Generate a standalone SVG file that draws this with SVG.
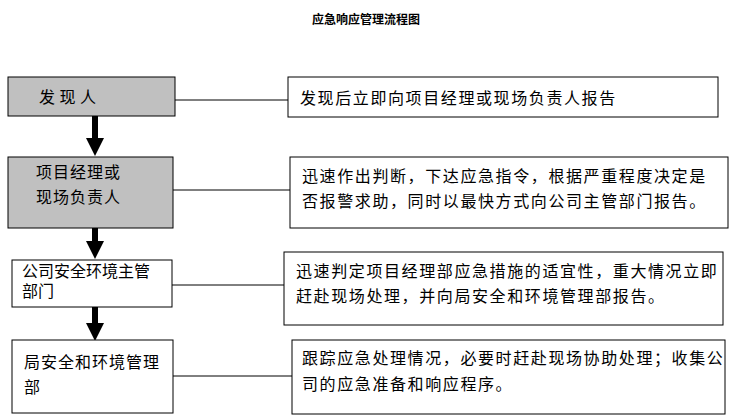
<svg xmlns="http://www.w3.org/2000/svg" width="733" height="419" viewBox="0 0 733 419">
<style>
text{font-family:"Liberation Sans","Noto Sans CJK SC",sans-serif;font-size:16px;fill:#000}
.t{font-weight:bold;font-size:12px}
.r{letter-spacing:1.6px}
.l{letter-spacing:1px}
.g{fill:#c0c0c0;stroke:#000;stroke-width:1}
.w{fill:#fff;stroke:#000;stroke-width:1}
.c{stroke:#000;stroke-width:1;fill:none}
.a{stroke:#000;stroke-width:6;fill:none}
</style>
<defs><marker id="ah" markerWidth="3" markerHeight="3" refX="1.5" refY="1.5" orient="auto" markerUnits="strokeWidth" viewBox="0 0 3 3"><path d="M0,0 L3,1.5 L0,3 Z" fill="#000"/></marker></defs>
<rect width="733" height="419" fill="#fff"/>
<text class="t" x="366" y="24" text-anchor="middle">应急响应管理流程图</text>
<g id="connectors">
<line class="c" x1="175" y1="100" x2="288" y2="100"/>
<line class="c" x1="173" y1="190" x2="290" y2="190"/>
<line class="c" x1="172" y1="285" x2="284" y2="285"/>
<line class="c" x1="173" y1="376" x2="292" y2="376"/>
<line class="a" x1="95" y1="116" x2="95" y2="147" marker-end="url(#ah)"/>
<line class="a" x1="95" y1="228" x2="95" y2="250" marker-end="url(#ah)"/>
<line class="a" x1="95" y1="307" x2="95" y2="332" marker-end="url(#ah)"/>
</g>
<g id="n1"><rect class="g" x="8" y="77" width="167" height="39"/><text x="39" y="103">发 现 人</text></g>
<g id="n2"><rect class="g" x="8" y="157" width="165" height="71"/><text class="l" x="36" y="178">项目经理或</text><text class="l" x="36" y="203">现场负责人</text></g>
<g id="n3"><rect class="w" x="12" y="260" width="160" height="47"/><text x="22" y="277">公司安全环境主管</text><text x="22" y="297">部门</text></g>
<g id="n4"><rect class="w" x="12" y="340" width="161" height="73"/><text class="l" x="24" y="368">局安全和环境管理</text><text x="24" y="393">部</text></g>
<g id="r1"><rect class="w" x="288" y="77" width="430" height="40"/><text class="r" x="300" y="104">发现后立即向项目经理或现场负责人报告</text></g>
<g id="r2"><rect class="w" x="290" y="157" width="438" height="71"/><text class="r" x="302" y="182">迅速作出判断，下达应急指令，根据严重程度决定是</text><text class="r" x="302" y="207">否报警求助，同时以最快方式向公司主管部门报告。</text></g>
<g id="r3"><rect class="w" x="284" y="252" width="439" height="73"/><text class="r" x="296" y="277">迅速判定项目经理部应急措施的适宜性，重大情况立即</text><text class="r" x="296" y="302">赶赴现场处理，并向局安全和环境管理部报告。</text></g>
<g id="r4"><rect class="w" x="292" y="340" width="433" height="74"/><text class="r" x="302" y="364">跟踪应急处理情况，必要时赶赴现场协助处理；收集公</text><text class="r" x="302" y="390">司的应急准备和响应程序。</text></g>
</svg>
